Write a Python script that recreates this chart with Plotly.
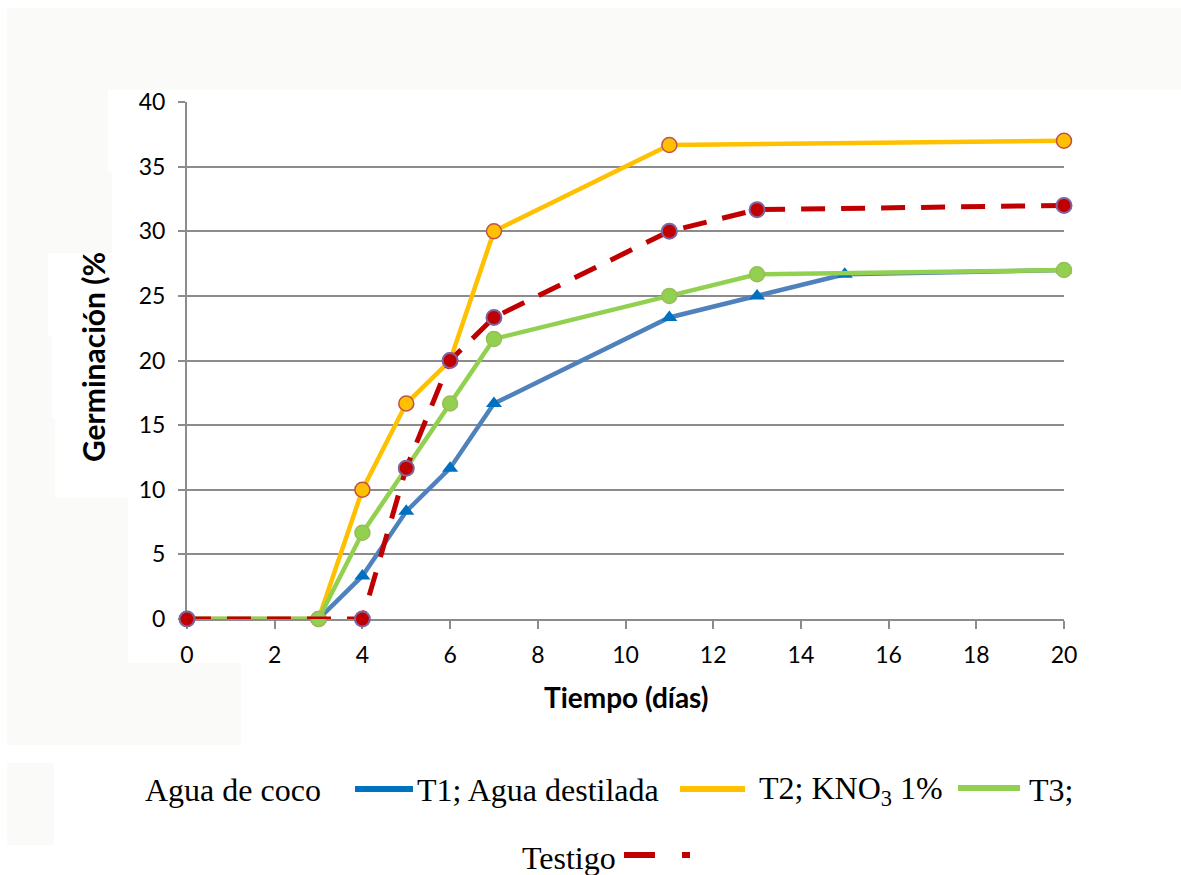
import plotly.graph_objects as go

# ---- data ----
t1_x = [0, 3, 4, 5, 6, 7, 11, 13, 15, 20]
t1_y = [0, 0, 3.33, 8.33, 11.67, 16.67, 23.33, 25, 26.67, 27]
t2_x = [0, 3, 4, 5, 6, 7, 11, 20]
t2_y = [0, 0, 10, 16.67, 20, 30, 36.67, 37]
t3_x = [0, 3, 4, 5, 6, 7, 11, 13, 20]
t3_y = [0, 0, 6.67, 11.67, 16.67, 21.67, 25, 26.67, 27]
tt_x = [0, 4, 5, 6, 7, 11, 13, 20]
tt_y = [0, 0, 11.67, 20, 23.33, 30, 31.67, 32]
x_ticks = [0, 2, 4, 6, 8, 10, 12, 14, 16, 18, 20]
y_ticks = [0, 5, 10, 15, 20, 25, 30, 35, 40]

W, H = 1181, 875
L, R, T, B = 187, 117, 102, 256
PW, PH = W - L - R, H - T - B


def px(x):
    return (x - L) / PW


def py(y):
    return 1 - (y - T) / PH


fig = go.Figure()
fig.add_trace(go.Scatter(x=t1_x, y=t1_y, mode="lines+markers", cliponaxis=False,
                         line=dict(color="#4F81BD", width=4.5),
                         marker=dict(symbol="triangle-up", size=14, color="#0070C0"),
                         showlegend=False))
fig.add_trace(go.Scatter(x=t2_x, y=t2_y, mode="lines+markers", cliponaxis=False,
                         line=dict(color="#FFC000", width=4.5),
                         marker=dict(symbol="circle", size=15, color="#FFC000",
                                     line=dict(color="#C0504D", width=1.5)),
                         showlegend=False))
fig.add_trace(go.Scatter(x=t3_x, y=t3_y, mode="lines+markers", cliponaxis=False,
                         line=dict(color="#92D050", width=4.5),
                         marker=dict(symbol="circle", size=15, color="#92D050",
                                     line=dict(color="#9BBB59", width=1.5)),
                         showlegend=False))
fig.add_trace(go.Scatter(x=tt_x, y=tt_y, mode="lines+markers", cliponaxis=False,
                         line=dict(color="#C00000", width=5, dash="24px,16px"),
                         marker=dict(symbol="circle", size=15, color="#C00000",
                                     line=dict(color="#8064A2", width=2)),
                         showlegend=False))

gray = "#FAFAF8"
rects = [
    (7, 8, 1181, 90),
    (7, 90, 108, 172),
    (7, 172, 112, 253),
    (7, 253, 48, 336),
    (7, 336, 52, 418),
    (7, 418, 55, 498),
    (7, 498, 128, 663),
    (7, 663, 241, 745),
    (7, 763, 54, 845),
]
shapes = []
for x0, y0, x1, y1 in rects:
    shapes.append(dict(type="rect", xref="paper", yref="paper",
                       x0=px(x0), x1=px(x1), y0=py(y1), y1=py(y0),
                       fillcolor=gray, line=dict(width=0), layer="below"))


def seg(x0, x1, y, color, w=6):
    return dict(type="line", xref="paper", yref="paper",
                x0=px(x0), x1=px(x1), y0=py(y), y1=py(y),
                line=dict(color=color, width=w))


shapes += [
    seg(355, 413, 789, "#0070C0"),
    seg(680, 745, 789, "#FFC000"),
    seg(958, 1020, 788, "#92D050"),
    seg(624, 655, 855, "#C00000"),
    seg(682, 690, 855, "#C00000"),
]

serif = dict(family="Liberation Serif, Times New Roman, serif", size=32, color="#000000")
annos = []


def txt(x, y, s, anchor="left"):
    annos.append(dict(xref="paper", yref="paper", x=px(x), y=py(y), text=s,
                      showarrow=False, xanchor=anchor, yanchor="middle", font=serif))


txt(143, 790, "Agua de coco")
txt(415, 790, "T1; Agua destilada")
txt(757, 790, "T2; KNO<sub>3</sub> 1%")
txt(1027, 790, "T3;")
txt(618, 858, "Testigo", anchor="right")

annos.append(dict(xref="paper", yref="paper", x=px(93), y=py(357),
                  text="<b>Germinación (%</b>", textangle=-90, showarrow=False,
                  xanchor="center", yanchor="middle",
                  font=dict(family="Lato, Open Sans, sans-serif", size=30, color="#000")))
annos.append(dict(xref="paper", yref="paper", x=px(626), y=py(697),
                  text="<b>Tiempo (días)</b>", showarrow=False,
                  xanchor="center", yanchor="middle",
                  font=dict(family="Lato, Open Sans, sans-serif", size=28, color="#000")))

tickfont = dict(family="Lato, Open Sans, sans-serif", size=23, color="#000")
fig.update_layout(
    width=W, height=H,
    margin=dict(l=L, r=R, t=T, b=B, pad=0),
    paper_bgcolor="white", plot_bgcolor="white",
    shapes=shapes, annotations=annos,
    xaxis=dict(range=[0, 20], tickvals=x_ticks, showgrid=False, zeroline=False,
               showline=True, linecolor="#8C8C8C", linewidth=2, layer="below traces",
               ticks="outside", ticklen=8, tickwidth=2, tickcolor="#8C8C8C",
               tickfont=tickfont, ticklabelstandoff=6),
    yaxis=dict(range=[0, 40], tickvals=y_ticks, showgrid=True, gridcolor="#8C8C8C",
               gridwidth=2, zeroline=False, layer="below traces",
               showline=True, linecolor="#8C8C8C", linewidth=2,
               ticks="outside", ticklen=7, tickwidth=2, tickcolor="#8C8C8C",
               tickfont=tickfont, ticklabelstandoff=8),
)
fig.update_xaxes(autorange=False)
fig.update_yaxes(autorange=False)
fig.write_html("out.html")
